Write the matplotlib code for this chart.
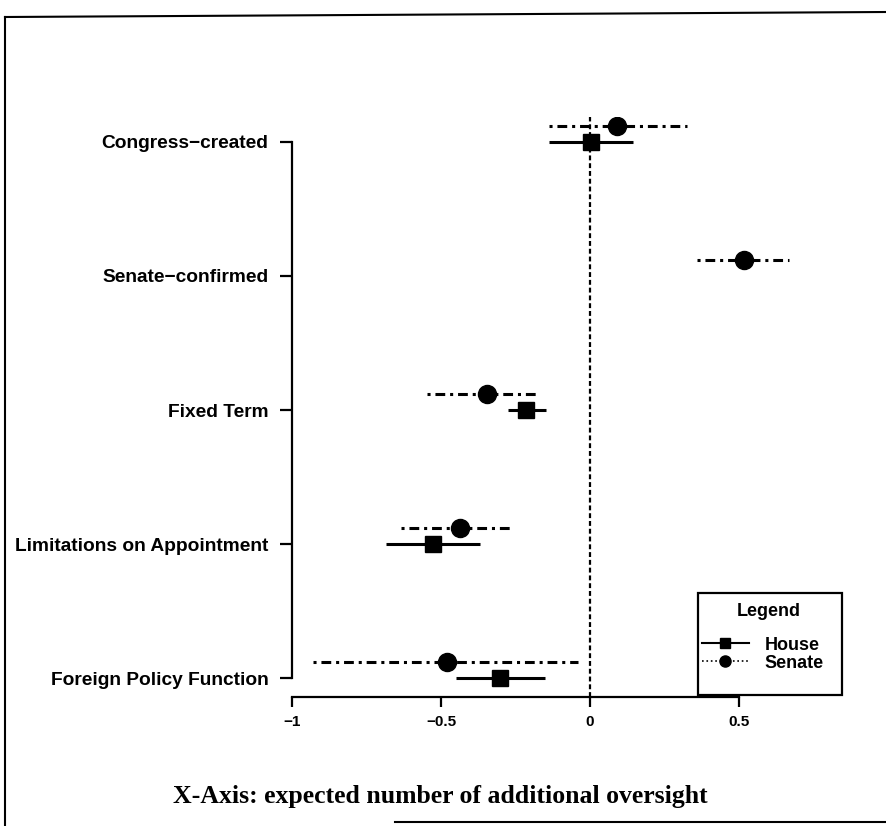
import matplotlib
matplotlib.use("Agg")
import matplotlib.pyplot as plt
from matplotlib.lines import Line2D
from matplotlib.patches import Rectangle

categories = ["Congress\u2212created", "Senate\u2212confirmed", "Fixed Term",
              "Limitations on Appointment", "Foreign Policy Function"]
ypos = [5, 4, 3, 2, 1]

house_est = [0.005, None, -0.215, -0.527, -0.302]
house_lo = [-0.137, None, -0.275, -0.685, -0.45]
house_hi = [0.144, None, -0.148, -0.37, -0.15]

senate_est = [0.09, 0.517, -0.346, -0.436, -0.48]
senate_lo = [-0.138, 0.36, -0.547, -0.634, -0.93]
senate_hi = [0.326, 0.67, -0.178, -0.268, -0.04]

xticks = [-1, -0.5, 0, 0.5]
xtick_labels = ["\u22121", "\u22120.5", "0", "0.5"]
xlabel = "X-Axis: expected number of additional oversight"

sans = ["Liberation Sans"]

W, H = 886, 826
fig = plt.figure(figsize=(W / 100, H / 100), dpi=100)
ax = fig.add_axes([292 / W, (H - 696.8) / H, (858 - 292) / W, (696.8 - 116.5) / H])

off = 0.12
lw = 2.2
for y, e, lo, hi in zip(ypos, house_est, house_lo, house_hi):
    if e is None:
        continue
    ax.plot([lo, hi], [y, y], color="black", lw=lw, solid_capstyle="butt")
    ax.plot([e], [y], marker="s", color="black", ms=11.5, ls="none")
for y, e, lo, hi in zip(ypos, senate_est, senate_lo, senate_hi):
    ax.plot([lo, hi], [y + off, y + off], color="black", lw=lw,
            dashes=(1, 1.6, 3.2, 1.6), dash_capstyle="butt")
    ax.plot([e], [y + off], marker="o", color="black", ms=13, ls="none")

ax.axvline(0, color="black", lw=1.6, dashes=(2.2, 1.3), zorder=1)

ax.set_xlim(-1.0, 0.9)
ax.set_ylim(0.86, 5.19)
for s in ["top", "right"]:
    ax.spines[s].set_visible(False)
ax.spines["left"].set_bounds(1, 5)
ax.spines["bottom"].set_bounds(-1, 0.5)
ax.spines["left"].set_linewidth(1.6)
ax.spines["bottom"].set_linewidth(1.6)
ax.set_yticks(ypos)
ax.set_yticklabels(categories, fontfamily=sans, fontweight="bold", fontsize=13.8)
ax.set_xticks(xticks)
ax.set_xticklabels(xtick_labels, fontfamily=sans, fontweight="bold", fontsize=11)
ax.tick_params(axis="y", length=9, width=1.6, pad=8)
ax.tick_params(axis="x", length=7, width=1.6, pad=6)

fig.add_artist(Rectangle((698 / W, 1 - 695 / H), 144 / W, 102 / H,
                         transform=fig.transFigure, facecolor="white",
                         edgecolor="black", lw=1.6, zorder=5))
handles = [
    Line2D([], [], color="black", lw=1.5, marker="s", ms=7, label="House"),
    Line2D([], [], color="black", lw=1.2, ls=":", marker="o", ms=8, label="Senate"),
]
leg = fig.legend(handles=handles, loc="upper left",
                 bbox_to_anchor=(698 / W, (H - 633) / H), frameon=False,
                 prop={"family": sans, "weight": "bold", "size": 13},
                 handlelength=2.6, handletextpad=0.9, borderpad=0.2,
                 labelspacing=0.05, borderaxespad=0)
leg.set_zorder(6)
t = fig.text(769 / W, 1 - 612 / H, "Legend", ha="center", va="center",
             fontfamily=sans, fontweight="bold", fontsize=13)
t.set_zorder(6)

fig.text(440 / W, 1 - 797 / H, xlabel, ha="center", va="center",
         fontfamily=["Liberation Serif"], fontweight="bold", fontsize=18.5)

fig.add_artist(Line2D([5 / W, 5 / W], [0, 1 - 17 / H], transform=fig.transFigure, color="black", lw=1.5))
fig.add_artist(Line2D([5 / W, 1], [1 - 17 / H, 1 - 12 / H], transform=fig.transFigure, color="black", lw=1.5))
fig.add_artist(Line2D([395 / W, 1], [1 - 822 / H, 1 - 822 / H], transform=fig.transFigure, color="black", lw=1.5))

fig.savefig("out.png", dpi=100)
